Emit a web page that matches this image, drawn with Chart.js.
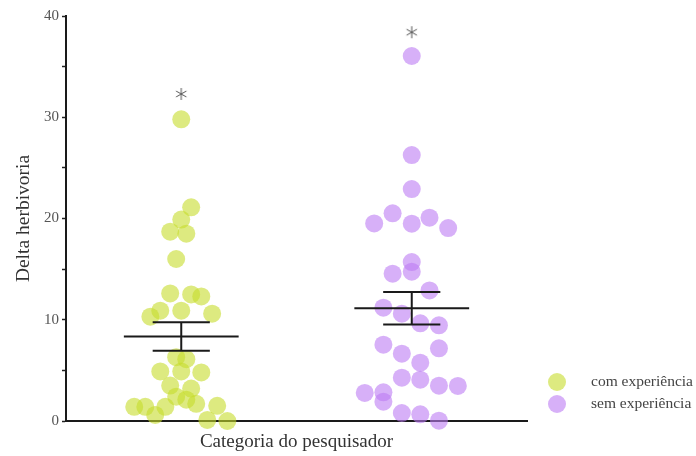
<!DOCTYPE html>
<html><head><meta charset="utf-8">
<script src="https://cdn.jsdelivr.net/npm/chart.js@4.4.0/dist/chart.umd.min.js"></script>
<style>html,body{margin:0;padding:0;background:#fff;}</style>
</head><body>
<canvas id="c" width="696" height="456"></canvas>
<script>
// ---- data ----
const categories = ['com experiência', 'sem experiência'];
const comExperiencia = [29.8, 21.1, 19.9, 18.7, 18.5, 16.0, 12.6, 12.5, 12.3, 10.9, 10.9, 10.3, 10.6, 6.3, 6.1,
  4.9, 4.9, 4.8, 3.5, 3.2, 2.4, 2.1, 1.4, 1.7, 1.5, 1.4, 1.4, 0.6, 0.1, 0.0];
const comJitter = [0, .043, 0, -.048, .022, -.022, -.048, .043, .087, -.091, 0, -.134, .134, -.022, .022,
  -.091, 0, .087, -.048, .043, -.022, .022, -.069, .065, .156, -.204, -.156, -.113, .113, .2];
const semExperiencia = [36.05, 26.27, 22.91, 20.51, 19.51, 19.49, 20.08, 19.06, 15.7, 14.75, 14.55, 12.9, 11.19,
  10.6, 9.65, 9.45, 7.54, 6.65, 7.18, 5.76, 4.28, 4.08, 3.49, 3.46, 2.77, 2.83, 1.91, 0.79, 0.66, 0.03];
const semJitter = [0, 0, 0, -.083, -.163, 0, .077, .158, 0, 0, -.083, .077, -.123, -.043, .037, .118,
  -.123, -.043, .118, .037, -.043, .037, .118, .2, -.204, -.123, -.123, -.043, .037, .118];
const significance = [32.3, 38.4];
const yTickLabels = [0, 10, 20, 30, 40];

// ---- helpers ----
const colors = ['rgba(198,220,43,0.6)', 'rgba(189,123,243,0.6)'];
function pts(vals, jit, idx) { return vals.map((v, i) => ({x: idx + 0.5 + jit[i], y: v})); }
function stats(vals) {
  const n = vals.length, m = vals.reduce((a, b) => a + b, 0) / n;
  const sd = Math.sqrt(vals.reduce((a, b) => a + (b - m) * (b - m), 0) / (n - 1));
  return {m, se: sd / Math.sqrt(n)};
}
function errorBar(vals, idx) {
  const {m, se} = stats(vals); const c = idx + 0.5, w = 0.249, cw = 0.124;
  return [
    {x: c - w, y: m}, {x: c + w, y: m}, {x: c, y: null},
    {x: c - cw, y: m + se}, {x: c + cw, y: m + se}, {x: c, y: null},
    {x: c - cw, y: m - se}, {x: c + cw, y: m - se}, {x: c, y: null},
    {x: c, y: m - se}, {x: c, y: m + se}
  ];
}
function makeAsterisk() {
  const c = document.createElement('canvas'); c.width = 14; c.height = 14;
  const g = c.getContext('2d'); g.strokeStyle = '#555'; g.lineWidth = 1;
  for (let k = 0; k < 3; k++) {
    const a = Math.PI / 2 + k * Math.PI / 3;
    g.beginPath(); g.moveTo(7 + 6 * Math.cos(a), 7 + 6 * Math.sin(a));
    g.lineTo(7 - 6 * Math.cos(a), 7 - 6 * Math.sin(a)); g.stroke();
  }
  return c;
}

const sideLegend = {
  id: 'sideLegend',
  afterDraw(chart) {
    const ctx = chart.ctx;
    const items = chart.data.datasets.filter(d => d.inLegend);
    ctx.save();
    items.forEach((d, i) => {
      const y = 382 + i * 22;
      ctx.beginPath(); ctx.arc(557, y, 9, 0, Math.PI * 2);
      ctx.fillStyle = d.backgroundColor; ctx.fill();
      ctx.fillStyle = '#444'; ctx.font = '15.5px "Liberation Serif", serif';
      ctx.textBaseline = 'middle'; ctx.textAlign = 'left';
      ctx.fillText(d.label, 591, y);
    });
    ctx.restore();
  }
};

Chart.defaults.font.family = '"Liberation Serif", serif';
Chart.defaults.color = '#444';

const datasets = [
  {type: 'scatter', label: categories[0], inLegend: true, data: pts(comExperiencia, comJitter, 0),
   backgroundColor: colors[0], borderWidth: 0, pointRadius: 9, pointHoverRadius: 9, order: 2, clip: false},
  {type: 'scatter', label: categories[1], inLegend: true, data: pts(semExperiencia, semJitter, 1),
   backgroundColor: colors[1], borderWidth: 0, pointRadius: 9, pointHoverRadius: 9, order: 2, clip: false},
  {type: 'line', label: 'eb1', data: errorBar(comExperiencia, 0), borderColor: '#1a1a1a', borderWidth: 2,
   pointRadius: 0, spanGaps: false, fill: false, order: 1, borderCapStyle: 'butt'},
  {type: 'line', label: 'eb2', data: errorBar(semExperiencia, 1), borderColor: '#1a1a1a', borderWidth: 2,
   pointRadius: 0, spanGaps: false, fill: false, order: 1, borderCapStyle: 'butt'},
  {type: 'scatter', label: 'sig', data: significance.map((v, i) => ({x: i + 0.5, y: v})),
   pointStyle: makeAsterisk(), pointRadius: 6, order: 0, clip: false}
];

new Chart(document.getElementById('c'), {
  type: 'scatter',
  data: {datasets},
  plugins: [sideLegend],
  options: {
    responsive: false, animation: false, devicePixelRatio: 1,
    layout: {padding: {top: 16, right: 169, left: 0, bottom: 0}},
    plugins: {legend: {display: false}, tooltip: {enabled: false}},
    scales: {
      x: {
        type: 'linear', min: 0, max: 2,
        ticks: {display: false},
        grid: {display: false},
        border: {display: true, color: '#1a1a1a', width: 2},
        title: {display: true, text: 'Categoria do pesquisador', font: {size: 19}, color: '#333', padding: {top: 0, bottom: 2.5}},
        afterFit: s => { s.height = 35; }
      },
      y: {
        type: 'linear', min: 0, max: 40,
        ticks: {stepSize: 5, autoSkip: false, padding: 3, font: {size: 15}, color: '#555',
          callback: v => yTickLabels.includes(v) ? String(v) : ''},
        grid: {display: true, drawOnChartArea: false, drawTicks: true, tickLength: 4, color: '#222', tickWidth: 1.5},
        border: {display: true, color: '#1a1a1a', width: 2},
        title: {display: true, text: 'Delta herbivoria', font: {size: 19.5}, color: '#333', padding: {top: 12, bottom: 0}},
        afterFit: s => { s.width = 66; }
      }
    }
  }
});
</script>
</body></html>
